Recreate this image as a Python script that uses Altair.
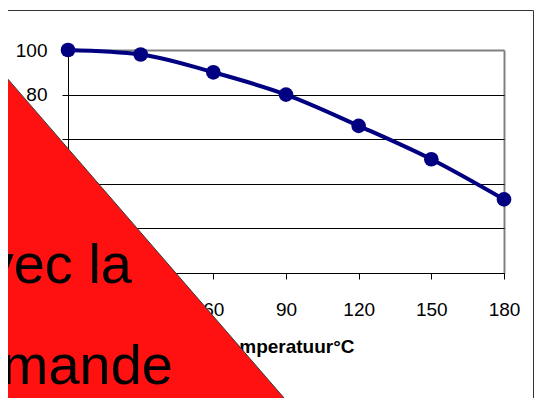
import altair as alt
import pandas as pd

# ---- data ----
temps = [0, 30, 60, 90, 120, 150, 180]
activity = [100, 98, 90, 80, 66, 51, 33]
x_ticks = [0, 30, 60, 90, 120, 150, 180]
y_ticks = [0, 20, 40, 60, 80, 100]
x_title = "Temperatuur°C"
overlay_line1 = "avec la"
overlay_line2 = "commande"

df = pd.DataFrame({"t": temps, "a": activity})
one = pd.DataFrame({"k": [0]})

FONT = "Liberation Sans"
NAVY = "#000080"

x_enc = alt.X(
    "t:Q",
    scale=alt.Scale(domain=[0, 180], nice=False, zero=False),
    axis=alt.Axis(
        values=x_ticks, format="d", title=x_title, labelFlush=False,
        labelFont=FONT, labelFontSize=19, labelColor="black", labelPadding=21,
        tickSize=6, tickColor="black", domainColor="black", domainWidth=1,
        grid=True,
        gridColor=alt.condition("datum.value == 180", alt.value("#808080"), alt.value("transparent")),
        gridWidth=2,
        titleFont=FONT, titleFontSize=19, titleFontWeight="bold", titleColor="black",
        titleBaseline="alphabetic", titleY=79,
    ),
)
y_enc = alt.Y(
    "a:Q",
    scale=alt.Scale(domain=[0, 100], nice=False),
    axis=alt.Axis(
        values=y_ticks, format="d", title=None, labelFlush=False,
        labelFont=FONT, labelFontSize=19, labelColor="black", labelPadding=15,
        tickSize=6, tickColor="black", domainColor="black", domainWidth=1,
        grid=True,
        gridColor=alt.condition("datum.value == 100", alt.value("#808080"), alt.value("black")),
        gridWidth=alt.condition("datum.value == 100", alt.value(2), alt.value(1)),
    ),
)

frame = alt.Chart(one).mark_rect(fillOpacity=0, stroke="#333333", strokeWidth=1).encode(
    x=alt.value(-80), x2=alt.value(465.5), y=alt.value(-39.5), y2=alt.value(400)
)

line = alt.Chart(df).mark_line(color=NAVY, strokeWidth=4, interpolate="monotone").encode(
    x=x_enc, y=y_enc
)
points = alt.Chart(df).mark_circle(color=NAVY, size=215, opacity=1).encode(
    x="t:Q", y="a:Q"
)

triangle = alt.Chart(one).mark_point(
    shape="M -88 -3.1 L -88 380 L 243.8 380 Z",
    size=4, filled=True, fill="#FF1111", stroke="#3a3a3a", strokeWidth=1, opacity=1,
).encode(x=alt.value(0), y=alt.value(0))

text1 = alt.Chart(one).mark_text(
    text=overlay_line1, font=FONT, fontSize=56, align="right", baseline="alphabetic", color="black"
).encode(x=alt.value(64), y=alt.value(233))
text2 = alt.Chart(one).mark_text(
    text=overlay_line2, font=FONT, fontSize=56, align="right", baseline="alphabetic", color="black"
).encode(x=alt.value(105), y=alt.value(334))

chart = alt.layer(frame, line, points, triangle, text1, text2).properties(
    width=436, height=223,
    autosize=alt.AutoSizeParams(type="none"),
    padding={"left": 60, "top": 42, "right": 30, "bottom": 125},
    background="white",
).configure_view(stroke="transparent")

chart.save("out.html", embed_options={"renderer": "svg", "actions": False})
